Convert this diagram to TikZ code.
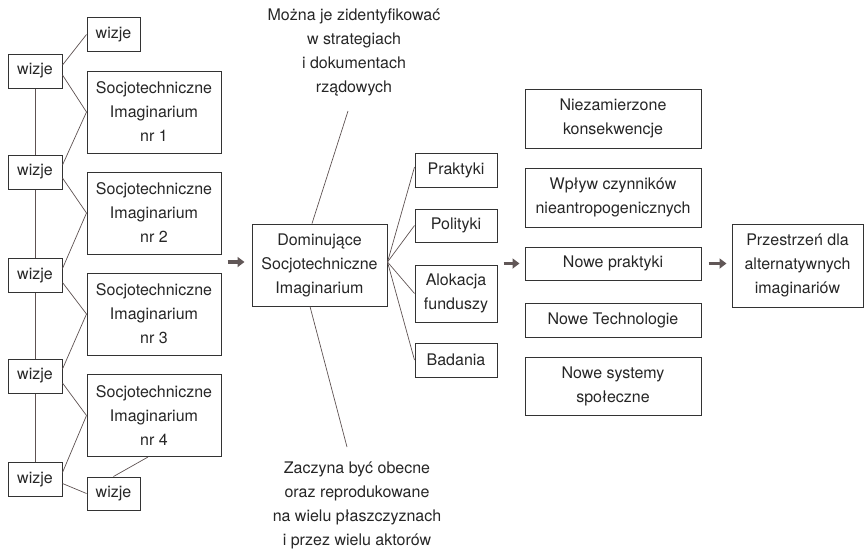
\documentclass[tikz,border=0pt]{standalone}
\usepackage{fontspec}
\setmainfont{TeX Gyre Heros}
\usetikzlibrary{arrows.meta}
\definecolor{boxc}{HTML}{333333}
\definecolor{linec}{HTML}{5E5252}
\definecolor{arrc}{HTML}{615757}
\begin{document}
\begin{tikzpicture}[x=1pt,y=-1pt,
  every node/.style={font=\fontsize{16}{24}\selectfont, text=black!85},
  bx/.style={draw=boxc, line width=1pt, align=center, inner sep=0pt},
  wz/.style={bx, minimum width=54pt, minimum height=34pt},
  sb/.style={bx, minimum width=134pt, minimum height=82pt},
  mb/.style={bx, minimum width=82pt},
  rb/.style={bx, minimum width=176pt},
  conn/.style={draw=linec, line width=0.7pt},
  bigarr/.style={draw=arrc, line width=3.2pt, -{Triangle[length=7pt,width=10pt]}},
  note/.style={align=center}]
\useasboundingbox (0,0) rectangle (864,550);
% left column
\node[wz] (w1) at (35,71) {wizje};
\node[wz] (w2) at (35,172) {wizje};
\node[wz] (w3) at (35,275.5) {wizje};
\node[wz] (w4) at (35,376) {wizje};
\node[wz] (w5) at (35,479.5) {wizje};
\node[wz, minimum width=53pt] (wt) at (113.5,34.5) {wizje};
\node[wz, minimum width=53pt, minimum height=33pt] (wb) at (113.5,493.5) {wizje};
\node[sb] (s1) at (154,112) {Socjotechniczne\\Imaginarium\\nr 1};
\node[sb] (s2) at (154,213) {Socjotechniczne\\Imaginarium\\nr 2};
\node[sb] (s3) at (154,314) {Socjotechniczne\\Imaginarium\\nr 3};
\node[sb] (s4) at (154,415.5) {Socjotechniczne\\Imaginarium\\nr 4};
% connectors left
\draw[conn] (w1.south) -- (w2.north);
\draw[conn] (w2.south) -- (w3.north);
\draw[conn] (w3.south) -- (w4.north);
\draw[conn] (w4.south) -- (w5.north);
\draw[conn] ([yshift=6pt]w1.east) -- (wt.west);
\draw[conn] ([yshift=-4pt]w1.east) -- (s1.west);
\draw[conn] (s1.west) -- ([yshift=7pt]w2.east);
\draw[conn] ([yshift=-6pt]w2.east) -- (s2.west);
\draw[conn] (s2.west) -- ([yshift=7pt]w3.east);
\draw[conn] ([yshift=-7pt]w3.east) -- (s3.west);
\draw[conn] (s3.west) -- ([yshift=7pt]w4.east);
\draw[conn] ([yshift=-7pt]w4.east) -- (s4.west);
\draw[conn] (s4.west) -- ([yshift=7pt]w5.east);
\draw[conn] ([yshift=-4pt]w5.east) -- (wb.west);
\draw[conn] ([xshift=-6pt]s4.south) -- (wb.north);
% centre
\node[bx, minimum width=135pt, minimum height=82pt] (dom) at (319.5,265) {Dominujące\\Socjotechniczne\\Imaginarium};
\node[note] (tnote) at (354,52.5) {Można je zidentyfikować\\w strategiach\\i dokumentach\\rządowych};
\node[note] (bnote) at (357,505.5) {Zaczyna być obecne\\oraz reprodukowane\\na wielu płaszczyznach\\i przez wielu aktorów};
\coordinate (ta) at (348,111);
\coordinate (tb) at (347,447);
\draw[conn] ([xshift=-7.5pt]dom.north) -- (ta);
\draw[conn] ([xshift=-9.5pt]dom.south) -- (tb);
\node[mb, minimum height=34pt] (prak) at (456,170) {Praktyki};
\node[mb, minimum height=33pt] (pol) at (456,225.5) {Polityki};
\node[mb, minimum height=57pt] (alo) at (456,293.5) {Alokacja\\funduszy};
\node[mb, minimum height=34pt] (bad) at (456,360) {Badania};
\draw[conn] ([yshift=3pt]dom.east) -- ([yshift=3pt]prak.west);
\draw[conn] ([yshift=3pt]dom.east) -- (pol.west);
\draw[conn] ([yshift=3pt]dom.east) -- (alo.west);
\draw[conn] ([yshift=3pt]dom.east) -- (bad.west);
% right
\node[rb, minimum height=59pt] (r1) at (613,118.5) {Niezamierzone\\konsekwencje};
\node[rb, minimum height=59pt] (r2) at (613,197.5) {Wpływ czynników\\nieantropogenicznych};
\node[rb, minimum height=33pt] (r3) at (613,263.5) {Nowe praktyki};
\node[rb, minimum height=34pt] (r4) at (613,320) {Nowe Technologie};
\node[rb, minimum height=58pt] (r5) at (613,386) {Nowe systemy\\społeczne};
\node[bx, minimum width=131pt, minimum height=83pt] (pz) at (797.5,265.5) {Przestrzeń dla\\alternatywnych\\imaginariów};
% arrows
\draw[bigarr, shorten <=6pt, shorten >=7pt] ([yshift=3pt]s2.east |- dom.west) -- ([yshift=3pt]dom.west);
\draw[bigarr, shorten <=6pt, shorten >=5pt] (alo.east |- r3.west) -- (r3.west);
\draw[bigarr, shorten <=7pt, shorten >=5pt] (r3.east) -- (r3.east -| pz.west);
\end{tikzpicture}
\end{document}
